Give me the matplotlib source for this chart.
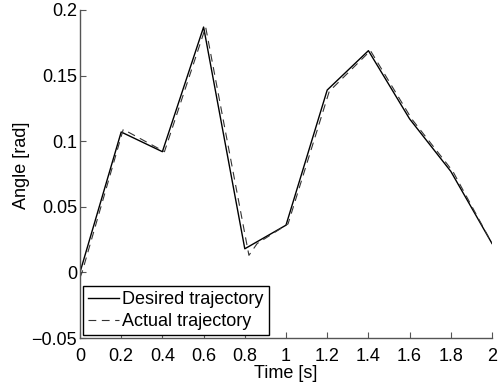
import matplotlib.pyplot as plt
import numpy as np

plt.rcParams['font.family'] = ['Liberation Sans', 'DejaVu Sans']

# desired trajectory (via points)
t_des = np.array([0.0, 0.2, 0.4, 0.6, 0.8, 1.0, 1.2, 1.4, 1.6, 1.8, 2.0])
q_des = np.array([0.0, 0.107, 0.092, 0.187, 0.018, 0.036, 0.139, 0.169, 0.117, 0.077, 0.022])

# actual trajectory (lags a little behind)
t_act = np.array([0.0, 0.01, 0.21, 0.41, 0.61, 0.82, 0.86, 1.01, 1.21, 1.41, 1.61, 1.81, 2.0])
q_act = np.array([-0.004, 0.0, 0.109, 0.092, 0.187, 0.013, 0.022, 0.037, 0.138, 0.169, 0.117, 0.077, 0.022])

fig = plt.figure(figsize=(4.98, 3.89), dpi=100)
ax = fig.add_axes([0.1606, 0.1311, 0.8274, 0.8432])

ax.plot(t_des, q_des, color='black', linewidth=1.0, label='Desired trajectory')
ax.plot(t_act, q_act, color='#333333', linewidth=0.8, linestyle=(0, (7, 5)), label='Actual trajectory')

ax.set_xlim(0, 2)
ax.set_ylim(-0.05, 0.2)
ax.set_xticks(np.arange(0, 2.01, 0.2))
ax.set_xticklabels(['0', '0.2', '0.4', '0.6', '0.8', '1', '1.2', '1.4', '1.6', '1.8', '2'])
ax.set_yticks([-0.05, 0, 0.05, 0.1, 0.15, 0.2])
ax.set_yticklabels(['\u22120.05', '0', '0.05', '0.1', '0.15', '0.2'])

for s in ['top', 'right']:
    ax.spines[s].set_visible(False)
for s in ['left', 'bottom']:
    ax.spines[s].set_color('#555555')
    ax.spines[s].set_linewidth(1.0)
ax.tick_params(direction='in', length=4, width=0.8, color='#555555', labelsize=13)
ax.tick_params(axis='x', pad=7.5)
ax.tick_params(axis='y', pad=2)

ax.set_xlabel('Time [s]', fontsize=13, labelpad=0)
ax.set_ylabel('Angle [rad]', fontsize=13)
ax.yaxis.set_label_coords(-0.122, 0.527)

leg = ax.legend(loc='lower left', fontsize=13, frameon=True, fancybox=False,
                borderaxespad=0.15, handlelength=1.7, handletextpad=0.2,
                borderpad=0.3, labelspacing=0.25)
leg.get_frame().set_edgecolor('black')
leg.get_frame().set_linewidth(1.0)
leg.get_frame().set_alpha(1.0)

fig.savefig('out.png', dpi=100)
